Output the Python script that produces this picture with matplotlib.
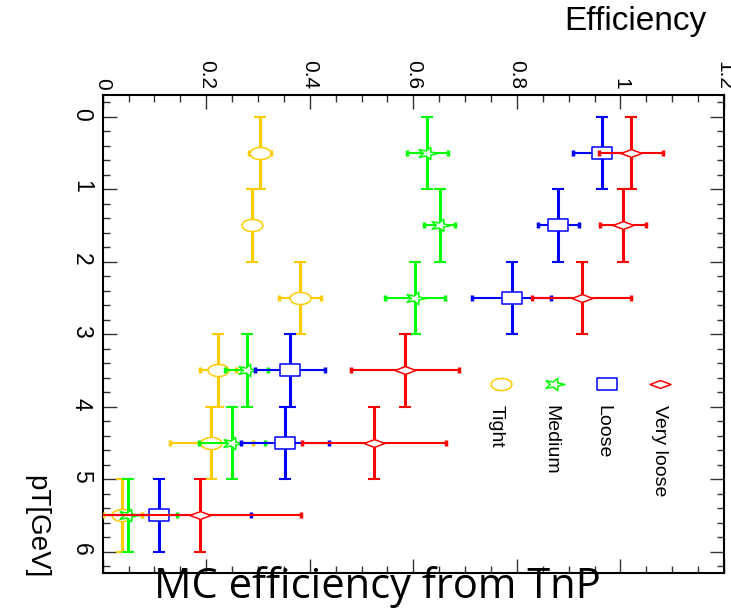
import numpy as np
import matplotlib.pyplot as plt
from matplotlib.path import Path
from matplotlib.transforms import Affine2D
from matplotlib.ticker import MultipleLocator

# pT bins (GeV), centre and half width
pt = [0.5, 1.5, 2.5, 3.5, 4.5, 5.5]
pt_err = [0.5, 0.5, 0.5, 0.5, 0.5, 0.5]

# MC efficiency per working point
eff_very_loose = [1.021, 1.005, 0.925, 0.584, 0.524, 0.188]
err_very_loose = [0.062, 0.045, 0.095, 0.105, 0.140, 0.195]
eff_loose = [0.965, 0.880, 0.790, 0.362, 0.353, 0.109]
err_loose = [0.056, 0.039, 0.076, 0.068, 0.085, 0.178]
eff_medium = [0.627, 0.651, 0.604, 0.278, 0.250, 0.048]
err_medium = [0.040, 0.030, 0.058, 0.042, 0.064, 0.095]
eff_tight = [0.304, 0.289, 0.381, 0.223, 0.210, 0.038]
err_tight = [0.022, 0.015, 0.041, 0.035, 0.080, 0.038]

labels = ["Very loose", "Loose", "Medium", "Tight"]
colors = ["#FF0000", "#0000FF", "#00FF00", "#FFCC00"]


def squashed(path, sy):
    # the picture is a rotated and stretched ROOT canvas, markers look flattened
    return Path(Affine2D().scale(1.0, sy).transform(path.vertices), path.codes)


def make_markers():
    diamond = Path.unit_rectangle()
    diamond = Path(Affine2D().translate(-0.5, -0.5).rotate_deg(45).transform(diamond.vertices), diamond.codes)
    square = Path(Affine2D().translate(-0.5, -0.5).transform(Path.unit_rectangle().vertices),
                  Path.unit_rectangle().codes)
    star = Path.unit_regular_star(5, 0.4)
    star = Path(Affine2D().rotate_deg(-90).transform(star.vertices), star.codes)
    circle = Path.unit_circle()
    return [squashed(diamond, 0.38), squashed(square, 0.55),
            squashed(star, 0.62), squashed(circle, 0.58)]


def plot_efficiency():
    plt.rcParams["font.family"] = ["Liberation Sans", "DejaVu Sans"]
    fig = plt.figure(figsize=(7.31, 6.08), dpi=100)
    ax = fig.add_axes([0.1405, 0.0581, 0.8499, 0.7857])

    markers = make_markers()
    series = [
        (eff_very_loose, err_very_loose),
        (eff_loose, err_loose),
        (eff_medium, err_medium),
        (eff_tight, err_tight),
    ]

    for i in [3, 2, 1, 0]:
        eff, err = series[i]
        z = 3 + (3 - i)
        ax.errorbar(eff, pt, xerr=err, fmt="none", ecolor=colors[i],
                    elinewidth=1.5, capsize=2.0, capthick=2.5, zorder=z)
        ax.errorbar(eff, pt, yerr=pt_err, fmt="none", ecolor=colors[i],
                    elinewidth=2.2, capsize=4.0, capthick=1.5, zorder=z)
        ax.plot(eff, pt, linestyle="none", marker=markers[i], markersize=15,
                markerfacecolor="white", markeredgecolor=colors[i],
                markeredgewidth=1.1, zorder=z + 0.5)

    ax.set_xlim(0, 1.2)
    ax.set_ylim(6.29, -0.3)

    ax.xaxis.set_major_locator(MultipleLocator(0.2))
    ax.xaxis.set_minor_locator(MultipleLocator(0.05))
    ax.yaxis.set_major_locator(MultipleLocator(1))
    ax.yaxis.set_minor_locator(MultipleLocator(0.2))
    ax.xaxis.set_major_formatter(plt.FuncFormatter(lambda v, p: f"{v:g}"))

    ax.tick_params(which="both", direction="in", top=True, bottom=True,
                   left=True, right=True, labeltop=True, labelbottom=False,
                   color="#333333", width=1.0)
    ax.tick_params(which="major", length=10)
    ax.tick_params(which="minor", length=5)
    ax.tick_params(axis="x", labelsize=15, labelrotation=-90, pad=4)
    ax.tick_params(axis="y", labelsize=16.5, labelrotation=-90, pad=7)
    for lab in ax.get_xticklabels():
        lab.set_verticalalignment("bottom")
    for s in ax.spines.values():
        s.set_linewidth(1.5)

    # legend, drawn rotated like the rest of the canvas
    leg_x = [0.897, 0.812, 0.726, 0.641]
    text_x = [0.897, 0.805, 0.722, 0.633]
    for i in range(4):
        ax.plot([leg_x[i]], [0.395], transform=ax.transAxes, linestyle="none",
                marker=markers[i], markersize=15, markerfacecolor="white",
                markeredgecolor=colors[i], markeredgewidth=1.1, clip_on=False)
        ax.text(text_x[i], 0.352, labels[i], transform=ax.transAxes,
                rotation=-90, ha="center", va="top", fontsize=14)

    fig.text(0.869, 0.964, "Efficiency", ha="center", va="center", fontsize=24)
    fig.text(0.049, 0.133, "pT[GeV]", ha="center", va="center",
             rotation=-90, fontsize=20)
    fig.text(0.516, 0.0164, "MC efficiency from TnP", ha="center",
             va="baseline", fontsize=30, family=["Open Sans", "DejaVu Sans"])

    fig.savefig("out.png", dpi=100)


if __name__ == "__main__":
    plot_efficiency()
